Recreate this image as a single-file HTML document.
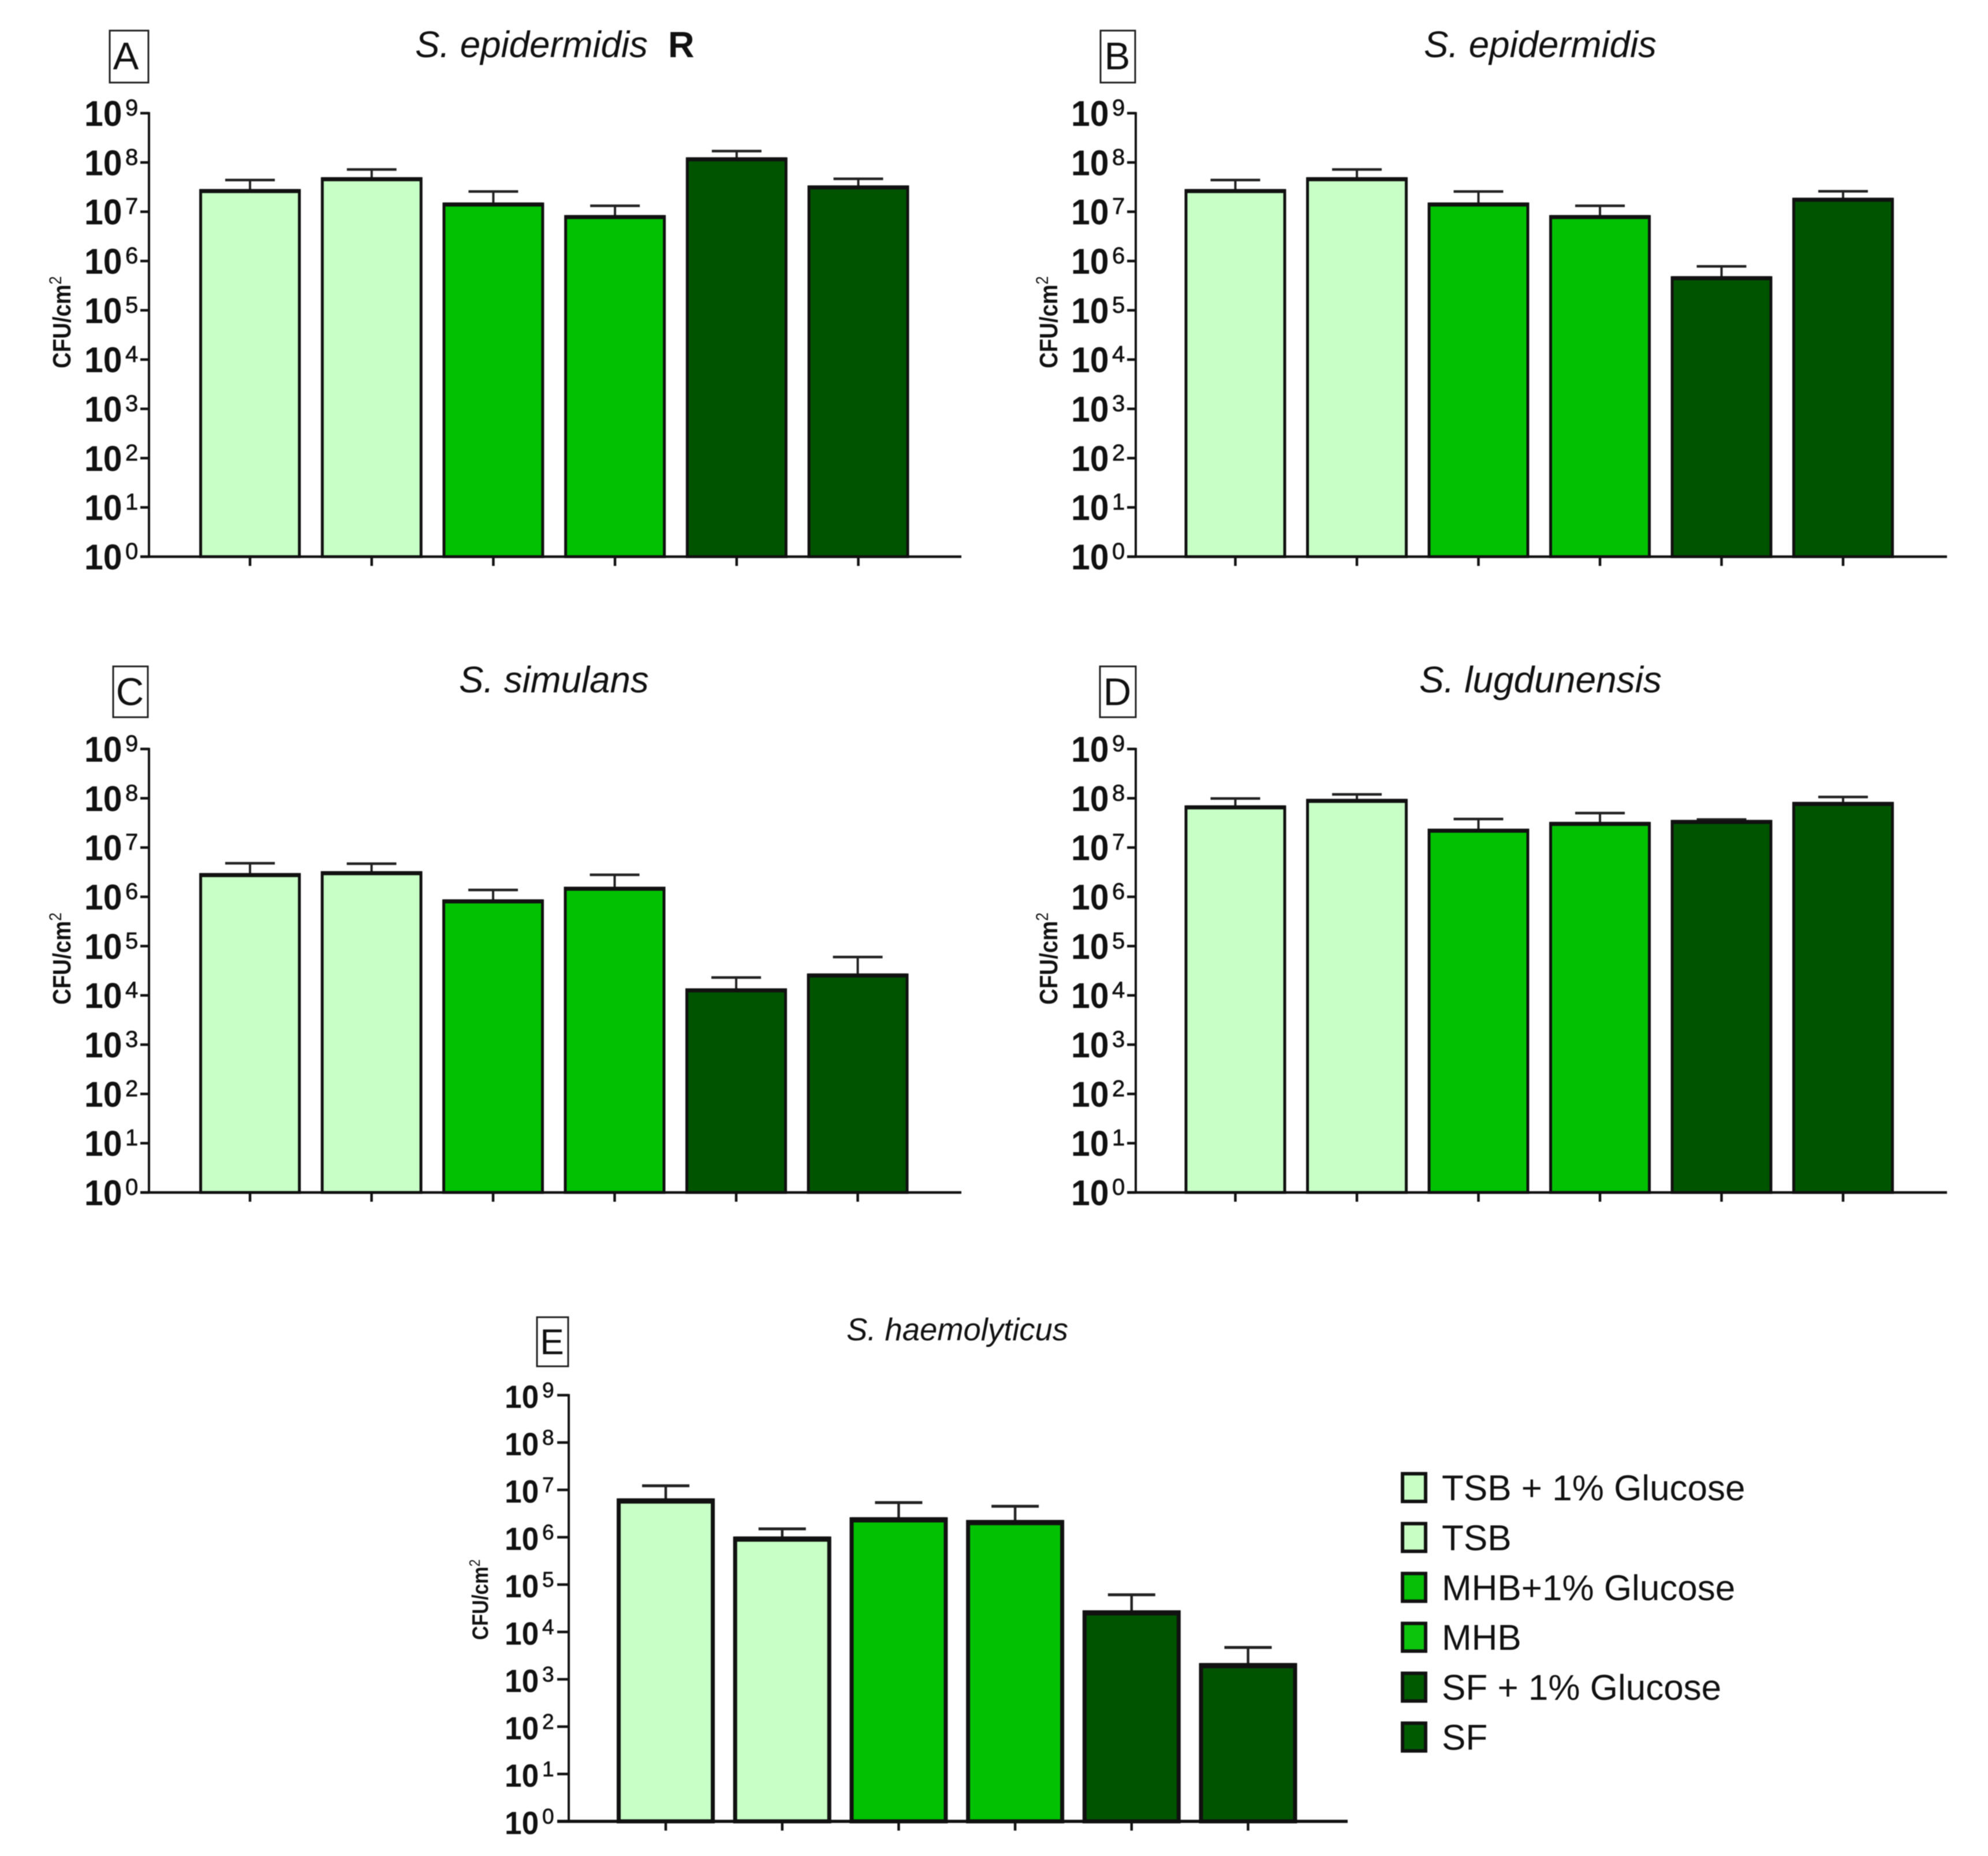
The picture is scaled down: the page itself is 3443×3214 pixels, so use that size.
<!DOCTYPE html>
<html lang="en">
<head>
<meta charset="utf-8">
<title>CFU/cm² by growth medium for five Staphylococcus species</title>
<style>
  html, body { margin: 0; padding: 0; background: #fff; }
  body { width: 3443px; height: 3214px; overflow: hidden; }
  svg { display: block; filter: blur(0.8px); }
  text { font-family: "Liberation Sans", Arial, sans-serif; fill: #111; }
</style>
</head>
<body>
<svg id="figure" xmlns="http://www.w3.org/2000/svg" width="3443" height="3214" viewBox="0 0 3443 3214">
  <rect x="0" y="0" width="3443" height="3214" fill="#ffffff"/>

  <rect x="190" y="53" width="67" height="90" fill="#fff" stroke="#222" stroke-width="3"/>
  <text x="218" y="120" font-size="67" text-anchor="middle">A</text>
  <text x="719" y="99" font-size="63.6" font-style="italic">S. epidermidis</text>
  <text x="1157" y="99" font-size="63" font-weight="bold">R</text>

  <rect x="1906" y="53" width="60" height="90" fill="#fff" stroke="#222" stroke-width="3"/>
  <text x="1935" y="120" font-size="67" text-anchor="middle">B</text>
  <text x="2466" y="99" font-size="63.6" font-style="italic">S. epidermidis</text>

  <rect x="196" y="1154" width="60" height="88" fill="#fff" stroke="#222" stroke-width="3"/>
  <text x="225" y="1221" font-size="67" text-anchor="middle">C</text>
  <text x="795" y="1199" font-size="63.6" font-style="italic">S. simulans</text>

  <rect x="1905" y="1154" width="62" height="88" fill="#fff" stroke="#222" stroke-width="3"/>
  <text x="1935" y="1221" font-size="67" text-anchor="middle">D</text>
  <text x="2458" y="1199" font-size="64" font-style="italic">S. lugdunensis</text>

  <rect x="930" y="2281" width="54" height="85" fill="#fff" stroke="#222" stroke-width="3"/>
  <text x="956" y="2345" font-size="62" text-anchor="middle">E</text>
  <text x="1466" y="2321" font-size="54.4" font-style="italic">S. haemolyticus</text>

  <g id="panels"></g>
  <g id="legend"></g>
</svg>

<script>
// ---- Chart data ----
const categories = ["TSB + 1% Glucose", "TSB", "MHB+1% Glucose", "MHB", "SF + 1% Glucose", "SF"];
const tickExponents = [0, 1, 2, 3, 4, 5, 6, 7, 8, 9];

const panelAValues = [2.7e7, 4.7e7, 1.44e7, 8e6, 1.19e8, 3.2e7];
const panelAErrorTops = [4.4e7, 7.2e7, 2.57e7, 1.32e7, 1.7e8, 4.66e7];

const panelBValues = [2.7e7, 4.7e7, 1.44e7, 8e6, 4.6e5, 1.8e7];
const panelBErrorTops = [4.4e7, 7.2e7, 2.57e7, 1.32e7, 7.8e5, 2.6e7];

const panelCValues = [2.84e6, 3.1e6, 8.3e5, 1.5e6, 1.3e4, 2.6e4];
const panelCErrorTops = [4.8e6, 4.7e6, 1.38e6, 2.8e6, 2.3e4, 6e4];

const panelDValues = [6.7e7, 9.1e7, 2.26e7, 3.1e7, 3.4e7, 7.9e7];
const panelDErrorTops = [9.9e7, 1.2e8, 3.8e7, 5e7, 3.7e7, 1.06e8];

const panelEValues = [6e6, 9.4e5, 2.4e6, 2.1e6, 2.6e4, 2e3];
const panelEErrorTops = [1.22e7, 1.5e6, 5.4e6, 4.5e6, 6.1e4, 4.7e3];

// ---- Styling and layout ----
const barColors = ["#c8ffc6", "#c8ffc6", "#02c102", "#02c102", "#005400", "#005400"];
const legendColors = ["#c8fdc4", "#c8fdc4", "#08bf08", "#0cc40c", "#005a00", "#005a00"];
const inkColor = "#111111";
const SVG_NS = "http://www.w3.org/2000/svg";

function svgEl(tag, attrs) {
  const el = document.createElementNS(SVG_NS, tag);
  for (const key in attrs) {
    el.setAttribute(key, attrs[key]);
  }
  return el;
}

function drawPanel(id, values, errorTops, g) {
  const root = svgEl("g", {});
  
  
  document.getElementById("panels").appendChild(root);

  const maxExp = tickExponents[tickExponents.length - 1];
  const yScale = function (v) {
    return g.y0 - (Math.log10(v) / maxExp) * (g.y0 - g.yTop);
  };
  const xScale = function (i) {
    return g.firstCenter + i * g.step;
  };

  // y axis title
  const yTitle = svgEl("text", {
    transform: "translate(" + g.labelX + "," + g.labelY + ") rotate(-90) scale(0.96,1.1)",
    "font-size": g.labelSize,
    "font-weight": "bold",
    "text-anchor": "middle"
  });
  
  
  yTitle.appendChild(document.createTextNode("CFU/cm"));
  const sup = svgEl("tspan", { "font-size": g.labelSize * 0.68, "font-weight": "normal", dy: -g.labelSize * 0.36 });
  sup.textContent = "2";
  yTitle.appendChild(sup);
  root.appendChild(yTitle);

  // bars
  values.forEach(function (v, i) {
    const cx = xScale(i);
    const top = yScale(v);
    const errY = yScale(errorTops[i]);

    const stem = svgEl("line", { x1: cx, x2: cx, y1: errY, y2: top, stroke: "#222", "stroke-width": g.errWidth });
    
    
    root.appendChild(stem);

    const cap = svgEl("line", { x1: cx - g.capHalf, x2: cx + g.capHalf, y1: errY, y2: errY, stroke: "#222", "stroke-width": g.errWidth + 0.5 });
    
    
    root.appendChild(cap);

    const bar = svgEl("rect", {
      x: cx - g.barWidth / 2,
      y: top,
      width: g.barWidth,
      height: g.y0 - top,
      fill: barColors[i],
      stroke: inkColor,
      "stroke-width": g.barStroke
    });
    
    
    root.appendChild(bar);

    const barTop = svgEl("line", {
      x1: cx - g.barWidth / 2,
      x2: cx + g.barWidth / 2,
      y1: top + 1,
      y2: top + 1,
      stroke: inkColor,
      "stroke-width": g.barStroke + 2
    });
    
    
    root.appendChild(barTop);

    const xTick = svgEl("line", { x1: cx, x2: cx, y1: g.y0, y2: g.y0 + 16, stroke: inkColor, "stroke-width": 4.5 });
    
    
    root.appendChild(xTick);
  });

  // axes
  const yAxis = svgEl("line", { x1: g.axisX, x2: g.axisX, y1: g.yTop - 2, y2: g.y0, stroke: inkColor, "stroke-width": 4 });
  
  
  root.appendChild(yAxis);

  const xAxis = svgEl("line", { x1: g.axisX - g.tickLen, x2: g.axisEnd, y1: g.y0, y2: g.y0, stroke: inkColor, "stroke-width": g.xAxisWidth });
  
  
  root.appendChild(xAxis);

  // y ticks + labels
  tickExponents.forEach(function (exp) {
    const ty = yScale(Math.pow(10, exp));

    const tick = svgEl("line", { x1: g.axisX - g.tickLen, x2: g.axisX, y1: ty, y2: ty, stroke: inkColor, "stroke-width": 4.5 });
    
    
    root.appendChild(tick);

    const base = svgEl("text", {
      transform: "translate(" + (g.axisX + g.baseDx) + "," + (ty + 22) + ") scale(0.95,1)",
      "font-size": g.baseSize,
      "font-weight": "bold"
    });
    
    
    base.textContent = "10";
    root.appendChild(base);

    const power = svgEl("text", {
      x: g.axisX + g.expDx,
      y: ty + 4,
      "font-size": g.expSize,
      stroke: "#111",
      "stroke-width": 0.7
    });
    
    
    power.textContent = String(exp);
    root.appendChild(power);
  });
}

const upperGeometry = {
  barWidth: 171, barStroke: 5, errWidth: 4, capHalf: 43,
  tickLen: 15, xAxisWidth: 4.5, baseSize: 62, expSize: 40, baseDx: -112, expDx: -41,
  labelSize: 40
};

drawPanel("a", panelAValues, panelAErrorTops, Object.assign({}, upperGeometry, {
  axisX: 258, axisEnd: 1665, yTop: 196, y0: 964, firstCenter: 433, step: 210.7, labelX: 122, labelY: 558
}));
drawPanel("b", panelBValues, panelBErrorTops, Object.assign({}, upperGeometry, {
  axisX: 1967, axisEnd: 3372, yTop: 196, y0: 964, firstCenter: 2139.5, step: 210.5, labelX: 1831, labelY: 558
}));
drawPanel("c", panelCValues, panelCErrorTops, Object.assign({}, upperGeometry, {
  axisX: 258, axisEnd: 1665, yTop: 1297, y0: 2065, firstCenter: 433, step: 210.5, labelX: 122, labelY: 1660
}));
drawPanel("d", panelDValues, panelDErrorTops, Object.assign({}, upperGeometry, {
  axisX: 1967, axisEnd: 3372, yTop: 1297, y0: 2065, firstCenter: 2139.5, step: 210.5, labelX: 1831, labelY: 1660
}));
drawPanel("e", panelEValues, panelEErrorTops, {
  barWidth: 163, step: 201.7, barStroke: 7, errWidth: 4.5, capHalf: 41,
  tickLen: 20, xAxisWidth: 5.5, baseSize: 56, expSize: 37, baseDx: -111, expDx: -46,
  labelSize: 35,
  axisX: 985, axisEnd: 2334, yTop: 2416, y0: 3154, firstCenter: 1153, labelX: 845, labelY: 2770
});

// ---- Legend ----
const legendGroup = document.getElementById("legend");
categories.forEach(function (name, i) {
  const centerY = 2576 + i * 86.4;

  const swatch = svgEl("rect", {
    x: 2429, y: centerY - 24, width: 40, height: 48,
    fill: legendColors[i], stroke: "#111", "stroke-width": 6
  });
  
  
  legendGroup.appendChild(swatch);

  const label = svgEl("text", { x: 2497, y: centerY + 22, "font-size": 62 });
  
  
  label.textContent = name;
  legendGroup.appendChild(label);
});
</script>
</body>
</html>
